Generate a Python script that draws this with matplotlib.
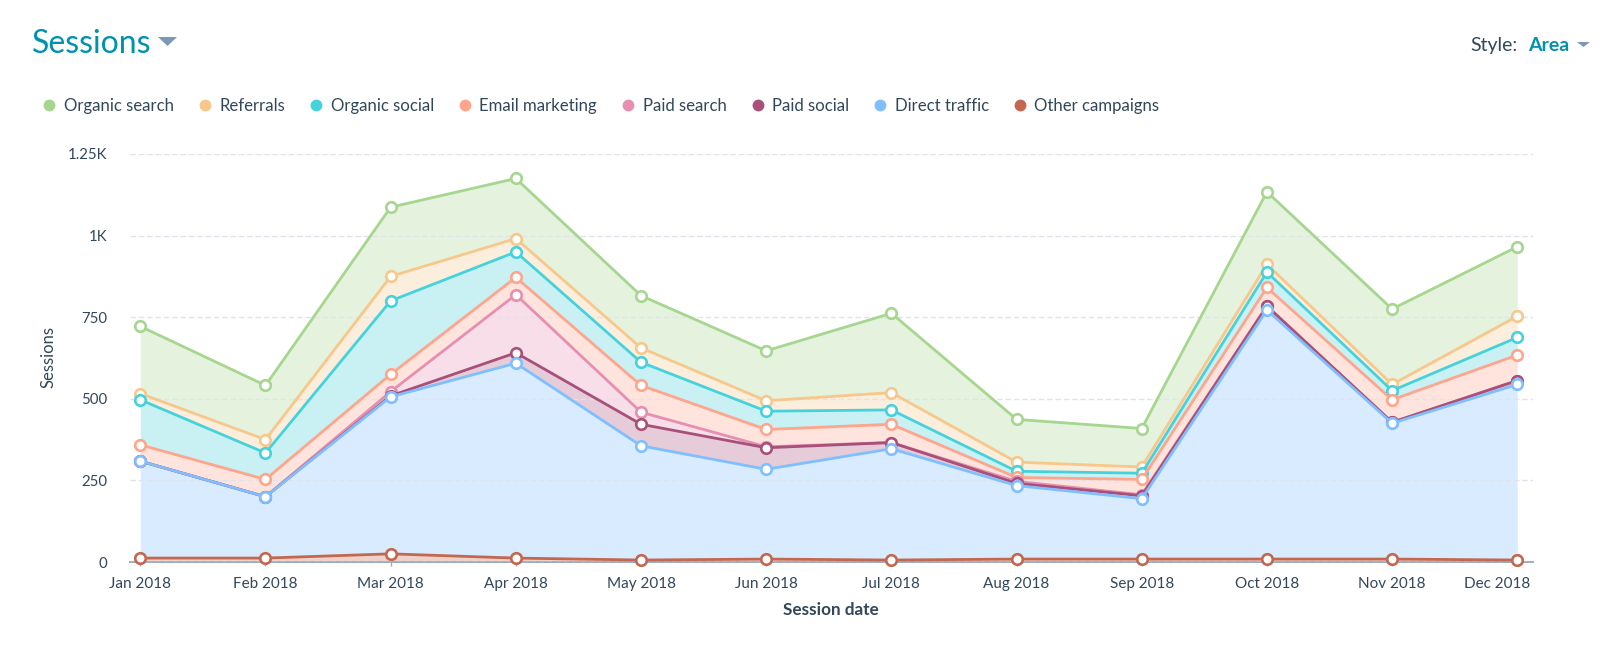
import numpy as np
import matplotlib
matplotlib.use("Agg")
import matplotlib.pyplot as plt
from matplotlib.lines import Line2D
from matplotlib.patches import Polygon
from matplotlib.transforms import ScaledTranslation

plt.rcParams['font.family'] = ['Lato', 'DejaVu Sans']

months = ["Jan 2018", "Feb 2018", "Mar 2018", "Apr 2018", "May 2018", "Jun 2018",
          "Jul 2018", "Aug 2018", "Sep 2018", "Oct 2018", "Nov 2018", "Dec 2018"]

# sessions per source
other_campaigns = [12, 12, 25, 12, 6, 9, 6, 9, 9, 9, 9, 6]
direct_traffic = [297, 188, 481, 597, 350, 275, 341, 225, 185, 763, 416, 538]
paid_social = [0, 0, 3, 32, 66, 66, 19, 7, 9, 12, 3, 12]
paid_search = [0, 0, 13, 178, 37, 3, 0, 6, 3, 0, 0, 0]
email_marketing = [50, 53, 53, 53, 82, 53, 56, 12, 47, 57, 69, 78]
organic_social = [138, 81, 225, 78, 71, 56, 44, 19, 19, 47, 28, 54]
referrals = [19, 41, 75, 41, 44, 32, 53, 28, 19, 24, 19, 65]
organic_search = [206, 166, 212, 184, 160, 153, 243, 131, 118, 222, 231, 213]

# bottom of the stack first
names = ["Other campaigns", "Direct traffic", "Paid social", "Paid search",
         "Email marketing", "Organic social", "Referrals", "Organic search"]
series = [other_campaigns, direct_traffic, paid_social, paid_search,
          email_marketing, organic_social, referrals, organic_search]
colors = ["#C4674F", "#7FBFFF", "#A75079", "#E68FB0",
          "#FFA58C", "#45D2DC", "#F7C78B", "#A6D68F"]

y_ticks = [0, 250, 500, 750, 1000, 1250]
y_labels = ["0", "250", "500", "750", "1K", "1.25K"]

W, H = 1600, 652
text_color = "#33475B"
teal = "#0091AE"

fig = plt.figure(figsize=(W / 100, H / 100), dpi=100)
ax_left, ax_right, ax_top, ax_bottom = 129.6, 1532.7, 154, 562
ax = fig.add_axes([ax_left / W, 1 - ax_bottom / H, (ax_right - ax_left) / W, (ax_bottom - ax_top) / H])

x = np.arange(len(months))
tops = np.cumsum(np.array(series), axis=0)

# fills first, then lines so the lower series sit on top
for i in range(len(series)):
    low = tops[i - 1] if i > 0 else np.zeros(len(months))
    ax.fill_between(x, low, tops[i], color=colors[i], alpha=0.29, lw=0, zorder=2)

for i in range(len(series) - 1, -1, -1):
    ax.plot(x, tops[i], color=colors[i], lw=2.0, marker='o', ms=7.6,
            mfc='white', mec=colors[i], mew=1.9, clip_on=False, zorder=3 + (len(series) - i))

first_x, last_x = 140.3, 1517.3
step = (last_x - first_x) / 11
ax.set_xlim((ax_left - first_x) / step, 11 + (ax_right - last_x) / step)
ax.set_ylim(0, 1250)
ax.set_xticks(x)
ax.set_xticklabels(months)
ax.set_yticks(y_ticks)
ax.set_yticklabels(y_labels)
ax.tick_params(axis='x', length=3, width=1, color="#99ACC2", labelsize=11,
               labelcolor=text_color, pad=8)
ax.tick_params(axis='y', length=0, labelsize=10.8, labelcolor=text_color, pad=16)
ax.grid(axis='y', color="#DFE3EB", lw=1, ls=(0, (4, 2)), zorder=1)
ax.set_axisbelow(False)
for s in ['top', 'left', 'right']:
    ax.spines[s].set_visible(False)
ax.spines['bottom'].set_color("#99ACC2")
ax.spines['bottom'].set_linewidth(1.4)
ax.spines['bottom'].set_zorder(2.5)

# last month label is pulled back inside the plot area
dec_label = ax.get_xticklabels()[-1]
dec_label.set_transform(dec_label.get_transform() + ScaledTranslation(-20.4 / 100, 0, fig.dpi_scale_trans))

ax.set_xlabel("Session date", fontsize=12.3, fontweight='bold', color=text_color, labelpad=7.5)
fig.text(49 / W, 1 - 356.5 / H, "Sessions", rotation=90, fontsize=12, color=text_color,
         ha='center', va='center')

# legend runs top of stack first
handles = [Line2D([], [], ls='', marker='o', ms=7.5, color=colors[i], label=names[i])
           for i in range(len(series) - 1, -1, -1)]
fig.legend(handles=handles, loc='upper left', bbox_to_anchor=(36 / W, 1 - 93 / H), ncol=8,
           frameon=False, fontsize=12.1, labelcolor=text_color, handlelength=1.0,
           handletextpad=0.35, columnspacing=1.36, borderpad=0.3, borderaxespad=0)

fig.text(32 / W, 1 - 53 / H, "Sessions", fontsize=23, color=teal, ha='left', va='baseline')
fig.text(1470 / W, 1 - 51 / H, "Style:", fontsize=14, color=text_color, ha='left', va='baseline')
fig.text(1528 / W, 1 - 51 / H, "Area", fontsize=14, color=teal, fontweight='bold',
         ha='left', va='baseline')

def caret(x0, x1, y0, y1):
    pts = [(x0 / W, 1 - y0 / H), (x1 / W, 1 - y0 / H), ((x0 + x1) / 2 / W, 1 - y1 / H)]
    fig.add_artist(Polygon(pts, closed=True, color="#7C98B6", lw=0, transform=fig.transFigure))

caret(158, 177, 37, 46)
caret(1577, 1590, 42, 47)

fig.savefig("out.png", dpi=100)
